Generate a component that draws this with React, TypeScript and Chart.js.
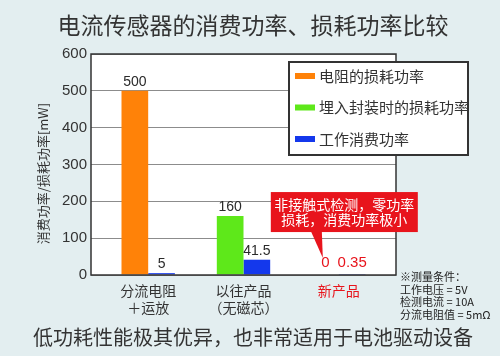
import React, { useEffect, useRef } from "react";
import { Chart, registerables } from "chart.js";

Chart.register(...registerables);

// ---------- data ----------
const categories: string[][] = [["分流电阻", "＋运放"], ["以往产品", "（无磁芯）"], ["新产品"]];
const resistorLoss: (number | null)[] = [500, null, null];
const embeddedLoss: (number | null)[] = [null, 160, 0];
const operatingPower: (number | null)[] = [5, 41.5, 0.35];
const seriesNames = ["电阻的损耗功率", "埋入封装时的损耗功率", "工作消费功率"];
const yTickValues = [0, 50, 100, 150, 200, 250, 300, 350, 400, 450, 500, 550, 600];
const titleText = "电流传感器的消费功率、损耗功率比较";
const yAxisTitle = "消费功率/损耗功率[mW]";
const footerText = "低功耗性能极其优异，也非常适用于电池驱动设备";
const calloutLines = ["非接触式检测，零功率", "损耗，消费功率极小"];
const noteLines = ["※测量条件：", "工作电压 = 5V", "检测电流 = 10A", "分流电阻值 = 5mΩ"];
const highlightCategory = 2;

// ---------- styles ----------
const FONT = '"Liberation Sans", "Noto Sans CJK SC", sans-serif';
const CJK = '"Noto Sans CJK SC", "Liberation Sans", sans-serif';
const COLORS = ["#ff8208", "#5ee81a", "#1438ec"];
const RED = "#e8141c";
const DARK = "#2a2a2a";
const BG = "#e3eef0";

const toPoints = (arr: (number | null)[]) => arr.map((v, i) => ({ x: i, y: v }));

const decorPlugin = {
  id: "decor",
  beforeDraw(chart: any) {
    const { ctx, chartArea: a } = chart;
    ctx.save();
    ctx.fillStyle = "#ffffff";
    ctx.fillRect(a.left, a.top, a.right - a.left, a.bottom - a.top);
    ctx.restore();
  },
  afterDatasetsDraw(chart: any) {
    const { ctx } = chart;
    ctx.save();
    ctx.textAlign = "center";
    ctx.textBaseline = "bottom";
    chart.data.datasets.forEach((ds: any, di: number) => {
      const meta = chart.getDatasetMeta(di);
      meta.data.forEach((bar: any, i: number) => {
        const v = ds.data[i].y;
        if (v === null || v === undefined) return;
        const hl = i === highlightCategory;
        ctx.fillStyle = hl ? RED : DARK;
        ctx.font = `${hl ? 15 : 14}px ${FONT}`;
        ctx.fillText(String(v), bar.x, bar.y - (hl ? 5 : 2));
      });
    });
    ctx.restore();
  },
  afterDraw(chart: any) {
    const { ctx, chartArea: a, scales } = chart;
    ctx.save();
    // plot border
    ctx.strokeStyle = "#333";
    ctx.lineWidth = 1.5;
    ctx.strokeRect(a.left, a.top, a.right - a.left, a.bottom - a.top);

    // title
    ctx.fillStyle = "#333";
    ctx.font = `23px ${CJK}`;
    ctx.textAlign = "center";
    ctx.textBaseline = "middle";
    ctx.fillText(titleText, 253, 25);

    // y axis title
    ctx.save();
    ctx.translate(43, (a.top + a.bottom) / 2 + 9);
    ctx.rotate(-Math.PI / 2);
    ctx.font = `13px ${CJK}`;
    ctx.fillStyle = "#333";
    ctx.fillText(yAxisTitle, 0, 0);
    ctx.restore();

    // legend
    const lx = a.right - 107, ly = a.top + 8, lw = 179, lh = 93;
    ctx.fillStyle = "#fff";
    ctx.fillRect(lx, ly, lw, lh);
    ctx.strokeStyle = "#333";
    ctx.lineWidth = 2;
    ctx.strokeRect(lx, ly, lw, lh);
    ctx.font = `15px ${CJK}`;
    ctx.textAlign = "left";
    seriesNames.forEach((name, i) => {
      const cy = ly + 14 + i * 31.5;
      ctx.fillStyle = COLORS[i];
      ctx.fillRect(lx + 6, cy - 3, 20, 6);
      ctx.fillStyle = "#333";
      ctx.fillText(name, lx + 30, cy);
    });

    // callout
    const tipX = scales.x.getPixelForValue(highlightCategory) - 16;
    const tipY = scales.y.getPixelForValue(46);
    const bx = tipX - 52, bw = 147, by = tipY - 66, bh = 40;
    ctx.fillStyle = RED;
    ctx.fillRect(bx, by, bw, bh);
    ctx.beginPath();
    ctx.moveTo(tipX - 12, by + bh - 1);
    ctx.lineTo(tipX, tipY);
    ctx.lineTo(tipX - 1, by + bh - 1);
    ctx.closePath();
    ctx.fill();
    ctx.fillStyle = "#fff";
    ctx.font = `14px ${CJK}`;
    ctx.textAlign = "center";
    calloutLines.forEach((t, i) => ctx.fillText(t, bx + bw / 2, by + 13 + i * 14.5));

    // notes
    ctx.fillStyle = "#222";
    ctx.font = `11px ${CJK}`;
    ctx.textAlign = "left";
    noteLines.forEach((t, i) => ctx.fillText(t, 400, 277 + i * 12.5));

    // footer
    ctx.fillStyle = "#333";
    ctx.font = `20px ${CJK}`;
    ctx.textAlign = "center";
    ctx.fillText(footerText, 253, 337);
    ctx.restore();
  },
};

export default function App() {
  const ref = useRef<HTMLCanvasElement | null>(null);
  useEffect(() => {
    if (!ref.current) return;
    const chart = new Chart(ref.current, {
      type: "bar",
      data: {
        datasets: [
          { label: seriesNames[0], data: toPoints(resistorLoss) as any, backgroundColor: COLORS[0] },
          { label: seriesNames[1], data: toPoints(embeddedLoss) as any, backgroundColor: COLORS[1] },
          { label: seriesNames[2], data: toPoints(operatingPower) as any, backgroundColor: COLORS[2] },
        ],
      },
      options: {
        animation: false,
        responsive: false,
        skipNull: true,
        categoryPercentage: 0.56,
        barPercentage: 1.0,
        layout: { padding: { top: 54, right: 104, bottom: 0, left: 0 } },
        plugins: { legend: { display: false }, tooltip: { enabled: false }, title: { display: false } },
        scales: {
          x: {
            type: "linear",
            offset: false,
            min: -0.6,
            max: 2.6,
            afterBuildTicks: (s: any) => {
              s.ticks = categories.map((_, i) => ({ value: i }));
            },
            afterFit: (s: any) => {
              s.height = 81;
            },
            grid: { display: false, drawTicks: false },
            border: { display: false },
            ticks: {
              autoSkip: false,
              maxRotation: 0,
              padding: 7,
              font: { family: CJK, size: 14, lineHeight: 1.2 },
              color: (c: any) => (c.index === highlightCategory ? RED : "#333"),
              callback: (v: any) => categories[Math.round(v)] ?? "",
            },
          },
          y: {
            min: 0,
            max: 600,
            afterBuildTicks: (s: any) => {
              s.ticks = yTickValues.map((v) => ({ value: v }));
            },
            afterFit: (s: any) => {
              s.width = 91;
            },
            grid: { color: "#8c8c8c", lineWidth: 1, drawTicks: false },
            border: { display: false },
            ticks: { padding: 4, color: "#333", font: { family: FONT, size: 15 } },
          },
        },
      } as any,
      plugins: [decorPlugin],
    });
    return () => chart.destroy();
  }, []);

  return (
    <div style={{ position: "fixed", left: 0, top: 0, width: 500, height: 356, background: BG }}>
      <canvas ref={ref} width={500} height={356} style={{ display: "block", width: 500, height: 356 }} />
    </div>
  );
}
